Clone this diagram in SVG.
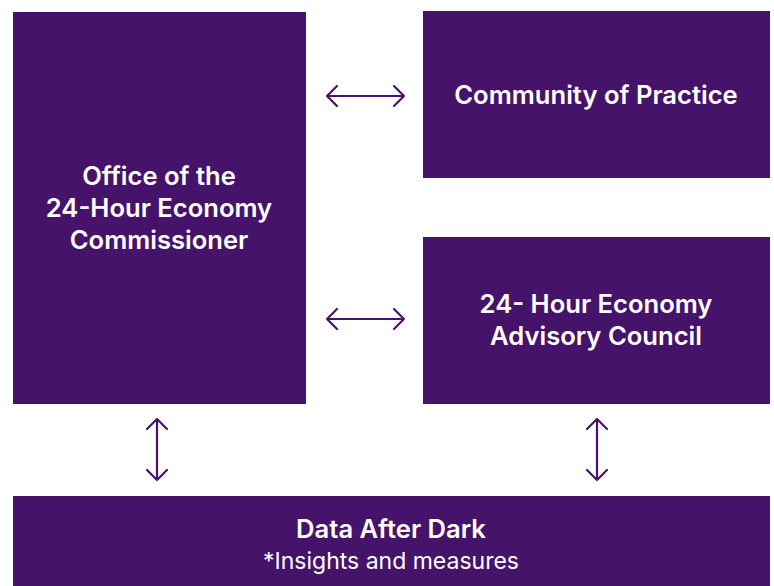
<svg xmlns="http://www.w3.org/2000/svg" width="774" height="586" viewBox="0 0 774 586">
<style>
.box{fill:#46136b}
.t{font-family:Inter,Roboto,"Liberation Sans",sans-serif;font-weight:600;font-size:25.6px;fill:#fff;text-anchor:middle}
.s{font-family:Inter,Roboto,"Liberation Sans",sans-serif;font-weight:400;font-size:23px;fill:#fff;text-anchor:middle}
.c{fill:none;stroke:#46136b;stroke-width:2.2;stroke-linecap:round;stroke-linejoin:round}
</style>
<rect width="774" height="586" fill="#fff"/>
<g id="office">
<rect class="box" x="13" y="12" width="293" height="392"/>
<text class="t" x="159" y="185">Office of the</text>
<text class="t" x="159" y="217">24-Hour Economy</text>
<text class="t" x="159" y="249">Commissioner</text>
</g>
<g id="community">
<rect class="box" x="423" y="11" width="347" height="167"/>
<text class="t" x="596" y="104">Community of Practice</text>
</g>
<g id="council">
<rect class="box" x="423" y="237" width="347" height="167"/>
<text class="t" x="596" y="313">24- Hour Economy</text>
<text class="t" x="596" y="345">Advisory Council</text>
</g>
<g id="data">
<rect class="box" x="13" y="496" width="757" height="90"/>
<text class="t" x="391" y="538">Data After Dark</text>
<text class="s" x="391" y="569">*Insights and measures</text>
</g>
<g id="connectors">
<path class="c" d="M327 96H404M337 86L327 96L337 106M394 86L404 96L394 106"/>
<path class="c" d="M327 319H404M337 309L327 319L337 329M394 309L404 319L394 329"/>
<path class="c" d="M157 419V480M147 429L157 419L167 429M147 470L157 480L167 470"/>
<path class="c" d="M597 419V480M587 429L597 419L607 429M587 470L597 480L607 470"/>
</g>
</svg>
